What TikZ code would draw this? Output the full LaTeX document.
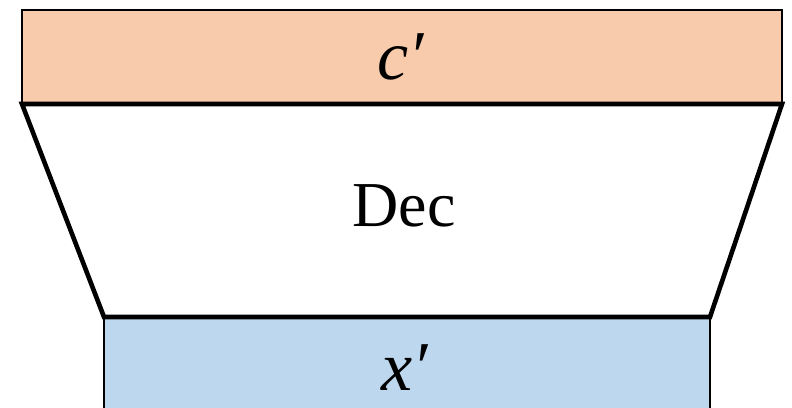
\documentclass[tikz,border=0pt]{standalone}
\usepackage{fontspec}
\setmainfont{Liberation Serif}
\definecolor{topfill}{HTML}{F8CBAD}
\definecolor{botfill}{HTML}{BDD7EE}
\begin{document}
\begin{tikzpicture}[x=1pt,y=-1pt,
  thinborder/.style={line width=2.6pt},
  thickborder/.style={line width=4.6pt, line join=miter},
  lbl/.style={font=\fontsize{64}{72}\selectfont, inner sep=0pt},
  mlbl/.style={font=\fontsize{70}{78}\selectfont\itshape, inner sep=0pt}]
\useasboundingbox (0,0) rectangle (792,407);
% top block c'
\draw[thinborder, fill=topfill] (22,10) rectangle (782,104);
% bottom block x'
\fill[botfill] (104,317) rectangle (710,410);
\draw[thinborder] (104,317) -- (104,410);
\draw[thinborder] (710,317) -- (710,410);
% decoder trapezoid
\coordinate (tl) at (22,104);
\coordinate (tr) at (782,104);
\coordinate (br) at (710,317);
\coordinate (bl) at (104,317);
\draw[thickborder] (tl) -- (tr) -- (br) -- (bl) -- cycle;
% labels
\node[mlbl] (c) at (401,57) {c′};
\node[lbl] (dec) at (404,206) {Dec};
\node[mlbl] (x) at (405,368) {x′};
\end{tikzpicture}
\end{document}
